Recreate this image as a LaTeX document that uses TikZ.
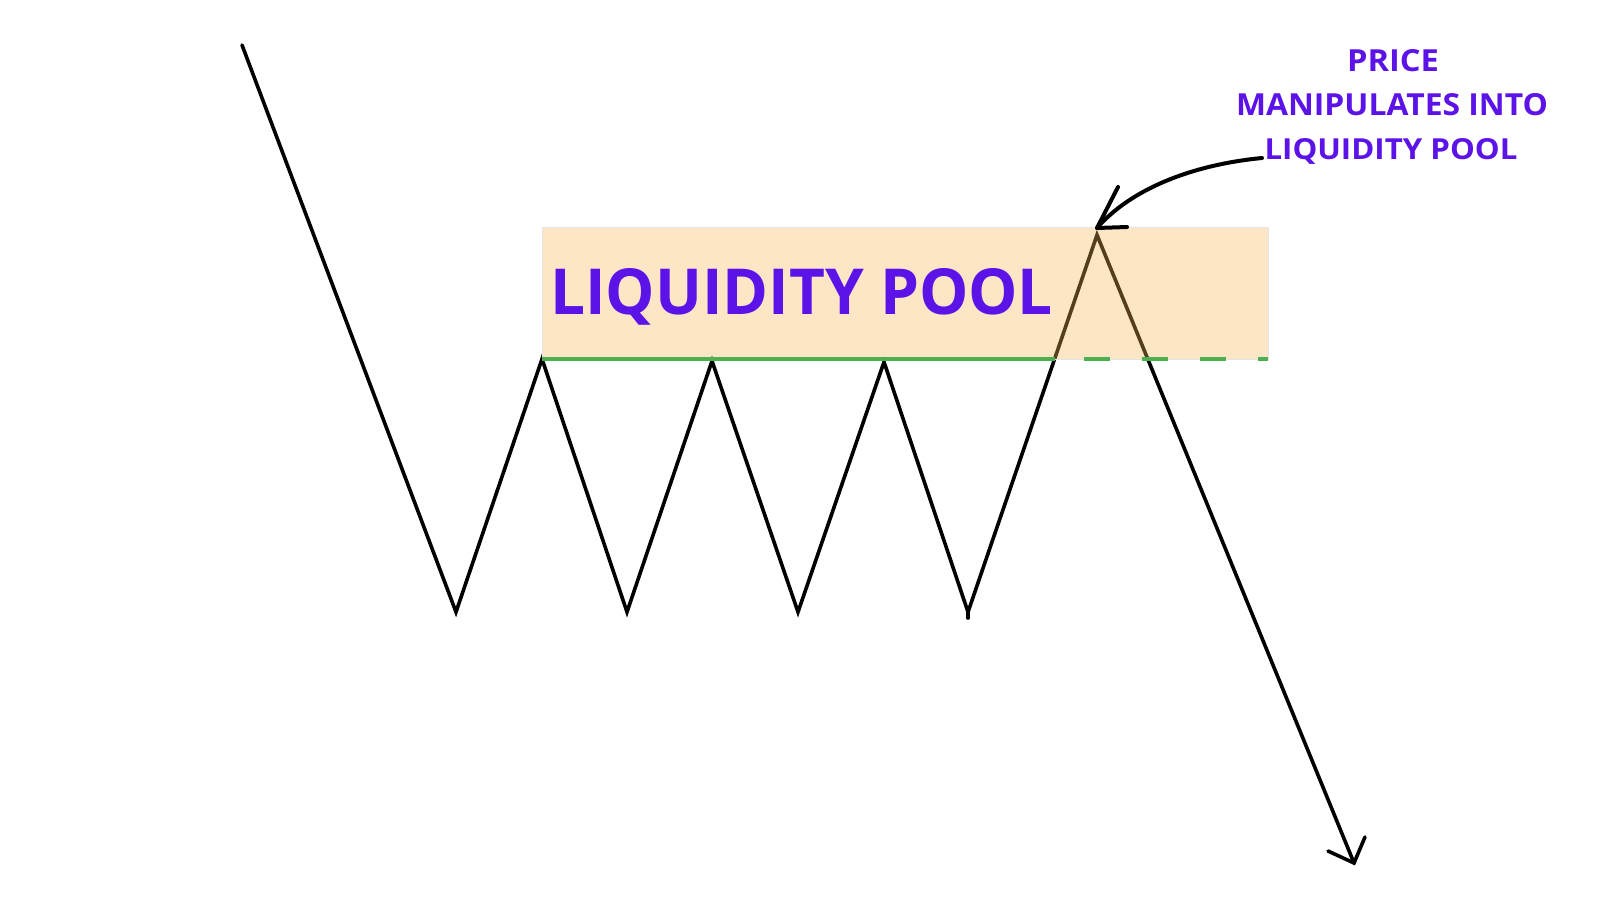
\documentclass[tikz,border=0pt]{standalone}
\usepackage{fontspec}
\setmainfont{Open Sans}
\usepackage{graphicx}
\definecolor{pooltext}{HTML}{5B13E8}
\definecolor{poolfill}{RGB}{250,182,85}
\definecolor{poolgreen}{HTML}{4CAF50}
\begin{document}
\begin{tikzpicture}[x=1pt,y=-1pt,
  price/.style={line width=3.6pt,black,line cap=round},
  hand/.style={line width=4pt,black,line cap=round,line join=round},
  lbl/.style={inner sep=0pt,outer sep=0pt,text=pooltext,font=\bfseries}]
\useasboundingbox[fill=white] (0,0) rectangle (1600,900);
% price path points
\coordinate (p0) at (242,45);
\coordinate (p1) at (456,612);
\coordinate (p2) at (542,359);
\coordinate (p3) at (627,612);
\coordinate (p4) at (712,361);
\coordinate (p5) at (798,612);
\coordinate (p6) at (884,362);
\coordinate (p7) at (968,612);
\coordinate (p7b) at (968,618);
\coordinate (p8) at (1097,235);
\coordinate (p9) at (1354,863);
\draw[price] (p0) -- (p1) -- (p2) -- (p3) -- (p4) -- (p5) -- (p6) -- (p7) -- (p8) -- (p9);
\draw[price] (p7) -- (p7b);
% arrow head at bottom
\coordinate (b1) at (1328,851);
\coordinate (b2) at (1365,837);
\draw[price] (b1) -- (p9) -- (b2);
% liquidity pool box
\coordinate (boxa) at (542,227);
\coordinate (boxb) at (1268,359);
\fill[poolfill,opacity=0.34] (boxa) rectangle (boxb);
\draw[black!10,line width=0.8pt] (boxa) rectangle (boxb);
% green level line
\coordinate (g0) at (542,359);
\coordinate (g1) at (1055,359);
\coordinate (g2) at (1084,359);
\coordinate (g3) at (1268,359);
\draw[poolgreen,line width=4.5pt] (g0) -- (g1);
\draw[poolgreen,line width=4.5pt,dash pattern=on 26pt off 32pt] (g2) -- (g3);
% big label
\node[lbl,anchor=base west] (pool) at (550,314) {\resizebox{503pt}{46pt}{LIQUIDITY POOL}};
% annotation
\node[lbl,anchor=base] (a1) at (1393,71) {\resizebox{92pt}{22pt}{PRICE}};
\node[lbl,anchor=base] (a2) at (1392,115) {\resizebox{312pt}{22pt}{MANIPULATES INTO}};
\node[lbl,anchor=base] (a3) at (1391,159) {\resizebox{253pt}{21pt}{LIQUIDITY POOL}};
% curved arrow
\coordinate (cs) at (1262,158);
\coordinate (ct) at (1097,228);
\coordinate (h1) at (1118,187);
\coordinate (h2) at (1127,227);
\draw[hand] (cs) .. controls (1190,165) and (1130,190) .. (ct);
\draw[hand] (h1) -- (ct) -- (h2);
\end{tikzpicture}
\end{document}
